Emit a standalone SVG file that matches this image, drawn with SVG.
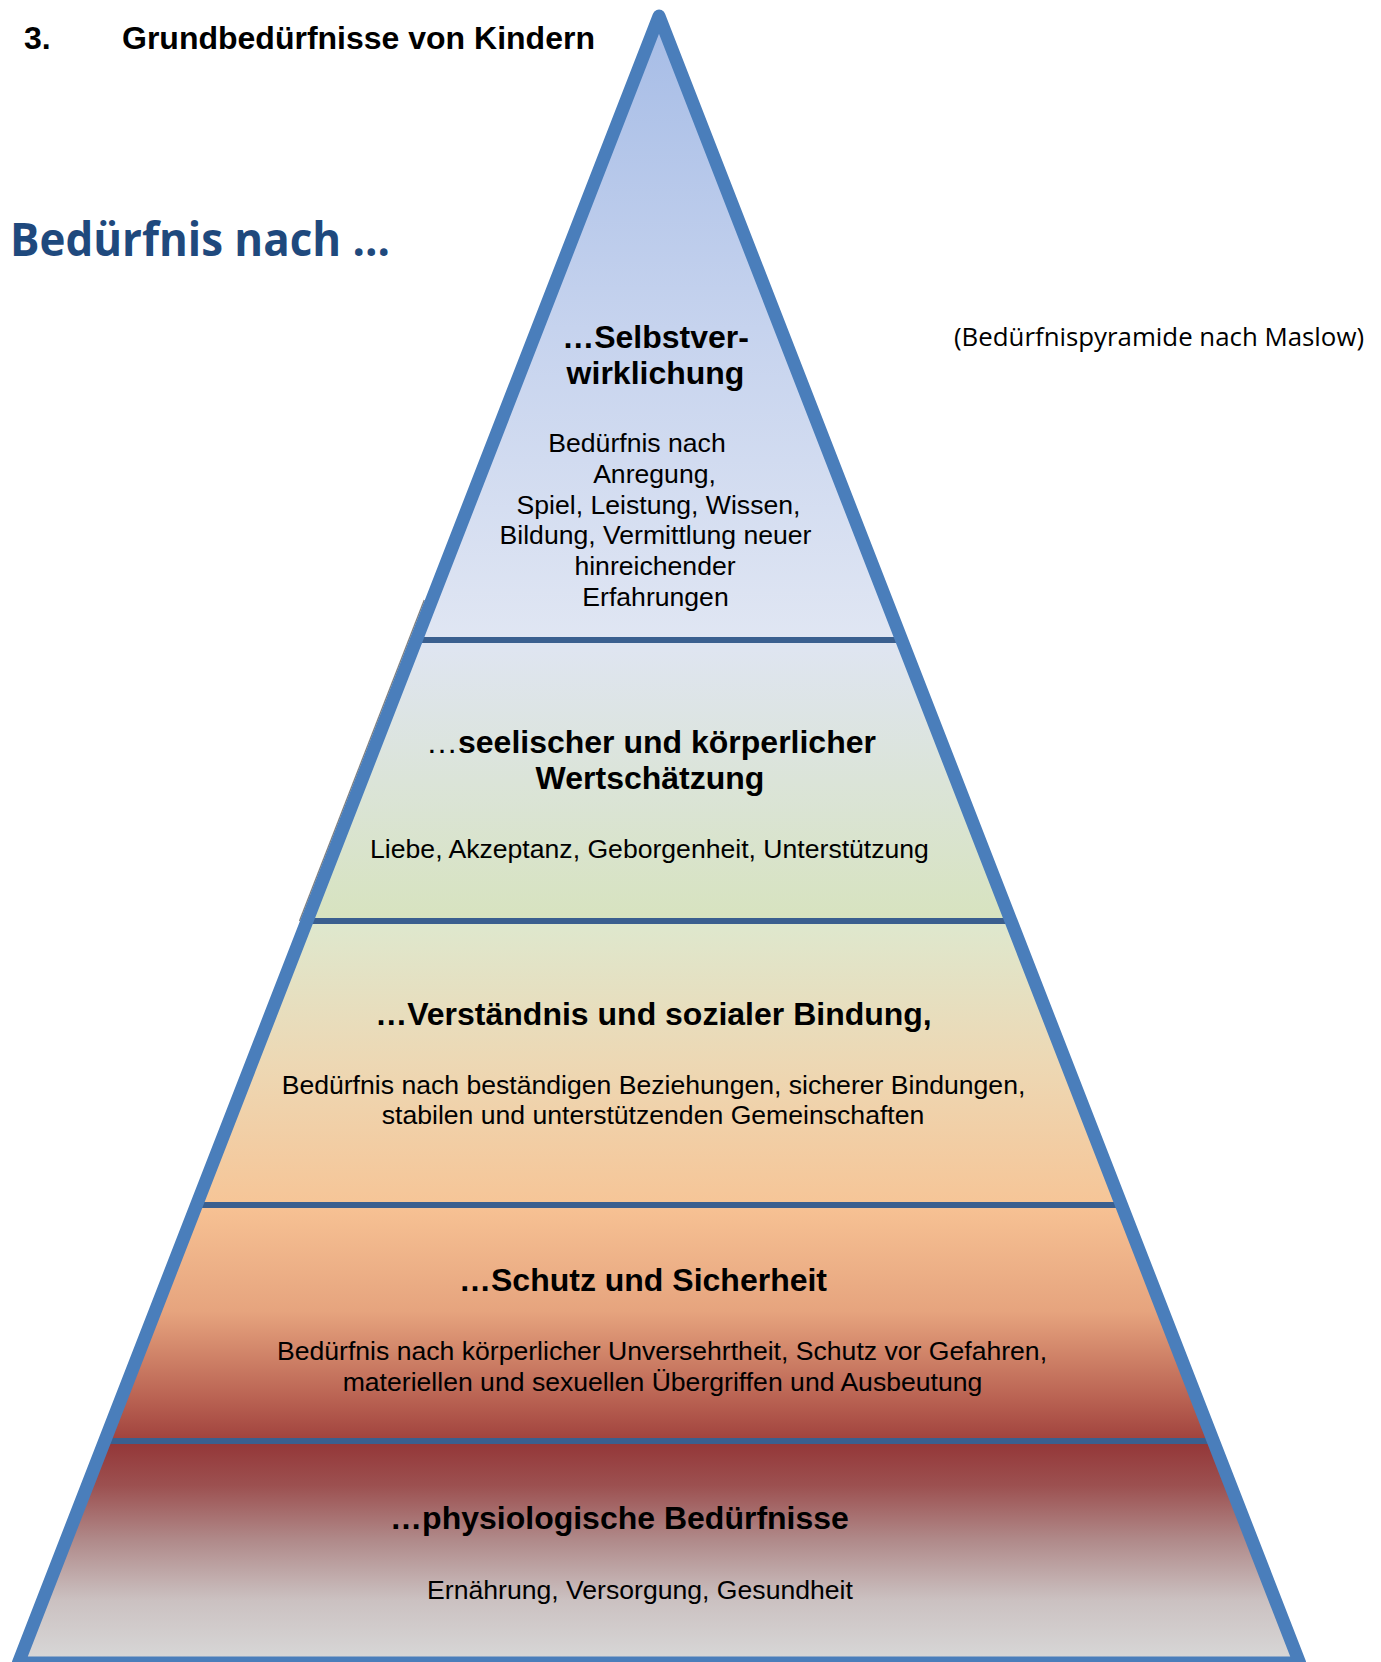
<svg xmlns="http://www.w3.org/2000/svg" width="1381" height="1662" viewBox="0 0 1381 1662">
  <style>
    .h { font-family: "Liberation Sans", Arial, sans-serif; font-weight: bold; font-size: 32px; fill: #000; }
    .b { font-family: "Liberation Sans", Arial, sans-serif; font-size: 26.6px; fill: #000; }
    .c { text-anchor: middle; }
    .div { stroke: #3A5F8F; stroke-width: 6; }
  </style>
  <defs>
    <linearGradient id="g1" gradientUnits="userSpaceOnUse" x1="0" y1="16" x2="0" y2="640">
      <stop offset="0" stop-color="#A6BCE6"/>
      <stop offset="0.5" stop-color="#C6D3EE"/>
      <stop offset="1" stop-color="#E0E6F3"/>
    </linearGradient>
    <linearGradient id="g2" gradientUnits="userSpaceOnUse" x1="0" y1="640" x2="0" y2="921">
      <stop offset="0" stop-color="#DFE5F2"/>
      <stop offset="1" stop-color="#D7E3BF"/>
    </linearGradient>
    <linearGradient id="g3" gradientUnits="userSpaceOnUse" x1="0" y1="921" x2="0" y2="1205">
      <stop offset="0" stop-color="#DEE8CE"/>
      <stop offset="0.5" stop-color="#EDD8B4"/>
      <stop offset="1" stop-color="#F6C597"/>
    </linearGradient>
    <linearGradient id="g4" gradientUnits="userSpaceOnUse" x1="0" y1="1205" x2="0" y2="1441">
      <stop offset="0" stop-color="#F7C294"/>
      <stop offset="0.45" stop-color="#E6A47E"/>
      <stop offset="0.8" stop-color="#BC6655"/>
      <stop offset="1" stop-color="#A0423D"/>
    </linearGradient>
    <linearGradient id="g5" gradientUnits="userSpaceOnUse" x1="0" y1="1441" x2="0" y2="1662">
      <stop offset="0" stop-color="#943637"/>
      <stop offset="0.2" stop-color="#9C5050"/>
      <stop offset="0.45" stop-color="#B08A8A"/>
      <stop offset="0.72" stop-color="#CBC1C1"/>
      <stop offset="1" stop-color="#D8D8D8"/>
    </linearGradient>
  </defs>

  <g id="title">
    <text x="24" y="49" class="h">3.</text>
    <text x="122" y="49" class="h">Grundbedürfnisse von Kindern</text>
  </g>
  <g id="subtitle">
    <text x="10" y="256" font-family="'Open Sans', sans-serif" font-weight="700" font-size="46" fill="#1F497D" textLength="380" lengthAdjust="spacingAndGlyphs">Bedürfnis nach ...</text>
  </g>
  <g id="note">
    <text x="954" y="346" font-family="'Open Sans', sans-serif" font-size="25.5" fill="#000" textLength="410" lengthAdjust="spacingAndGlyphs">(Bedürfnispyramide nach Maslow)</text>
  </g>

  <g id="level-selbstverwirklichung">
    <polygon points="659,16 416.3,640 901.7,640" fill="url(#g1)"/>
    <text class="h c" x="655.5" y="348">…Selbstver-</text>
    <text class="h c" x="655.5" y="384">wirklichung</text>
    <text class="b c" x="637" y="452">Bedürfnis nach</text>
    <text class="b c" x="654.5" y="483">Anregung,</text>
    <text class="b c" x="658.5" y="514">Spiel, Leistung, Wissen,</text>
    <text class="b c" x="655.5" y="544">Bildung, Vermittlung neuer</text>
    <text class="b c" x="655" y="575">hinreichender</text>
    <text class="b c" x="655.5" y="606">Erfahrungen</text>
  </g>

  <g id="level-wertschaetzung">
    <polygon points="416.3,640 901.7,640 1011,921 307,921" fill="url(#g2)"/>
    <text x="426" y="753"><tspan class="b" style="font-size:32px">…</tspan><tspan class="h">seelischer und körperlicher</tspan></text>
    <text class="h c" x="650" y="789">Wertschätzung</text>
    <text class="b c" x="649.5" y="858">Liebe, Akzeptanz, Geborgenheit, Unterstützung</text>
  </g>

  <g id="level-bindung">
    <polygon points="307,921 1011,921 1121.5,1205 196.5,1205" fill="url(#g3)"/>
    <text class="h c" x="653.5" y="1025">…Verständnis und sozialer Bindung,</text>
    <text class="b c" x="653.5" y="1094">Bedürfnis nach beständigen Beziehungen, sicherer Bindungen,</text>
    <text class="b c" x="653" y="1124">stabilen und unterstützenden Gemeinschaften</text>
  </g>

  <g id="level-sicherheit">
    <polygon points="196.5,1205 1121.5,1205 1213.3,1441 104.7,1441" fill="url(#g4)"/>
    <text class="h c" x="643" y="1291">…Schutz und Sicherheit</text>
    <text class="b c" x="662" y="1360">Bedürfnis nach körperlicher Unversehrtheit, Schutz vor Gefahren,</text>
    <text class="b c" x="662.5" y="1391">materiellen und sexuellen Übergriffen und Ausbeutung</text>
  </g>

  <g id="level-physiologisch">
    <polygon points="104.7,1441 1213.3,1441 1299.7,1663 18.3,1663" fill="url(#g5)"/>
    <text class="h c" x="619.5" y="1529">…physiologische Bedürfnisse</text>
    <text class="b c" x="640" y="1599">Ernährung, Versorgung, Gesundheit</text>
  </g>

  <g id="connectors">
    <line class="div" x1="421" y1="640" x2="897" y2="640"/>
    <line class="div" x1="312" y1="921" x2="1006" y2="921"/>
    <line class="div" x1="201" y1="1205" x2="1117" y2="1205"/>
    <line class="div" x1="109" y1="1441" x2="1209" y2="1441"/>
    <line x1="424.3" y1="600" x2="299.5" y2="921" stroke="#4a4a4a" stroke-width="1.3" opacity="0.7"/>
    <polygon points="659,16 18.3,1663 1299.7,1663" fill="none" stroke="#4A7EBB" stroke-width="13" stroke-linejoin="round"/>
  </g>
</svg>
